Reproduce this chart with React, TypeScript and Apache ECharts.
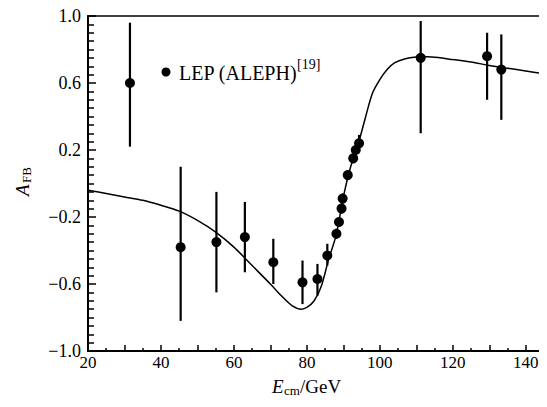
import React, { useEffect, useRef } from "react";
import * as echarts from "echarts";

const energy = [31.5, 45.4, 55.2, 63.0, 70.8, 78.8, 82.9, 85.6, 88.1, 88.8, 89.5, 89.8, 91.2, 92.7, 93.4, 94.3, 111.2, 129.4, 133.3];
const afb = [0.6, -0.38, -0.35, -0.32, -0.47, -0.59, -0.57, -0.43, -0.3, -0.23, -0.15, -0.09, 0.05, 0.15, 0.2, 0.24, 0.75, 0.76, 0.68];
const errLow = [0.22, -0.82, -0.65, -0.53, -0.6, -0.72, -0.67, -0.49, -0.33, -0.26, -0.18, -0.12, 0.02, 0.12, 0.17, 0.21, 0.3, 0.5, 0.38];
const errHigh = [0.96, 0.1, -0.05, -0.11, -0.33, -0.46, -0.48, -0.36, -0.27, -0.2, -0.12, -0.06, 0.08, 0.18, 0.23, 0.29, 0.97, 0.9, 0.89];

const curveX = [20, 25, 30, 35, 40, 45, 50, 55, 60, 65, 70, 73, 76, 78.5, 80, 82, 84, 86, 88, 90, 92, 94, 96, 98, 100, 102, 104, 107, 110, 113, 116, 120, 125, 130, 135, 140, 145];
const curveY = [-0.04, -0.06, -0.08, -0.1, -0.13, -0.165, -0.22, -0.29, -0.38, -0.49, -0.6, -0.67, -0.73, -0.75, -0.74, -0.7, -0.61, -0.45, -0.31, -0.08, 0.1, 0.23, 0.39, 0.54, 0.62, 0.68, 0.72, 0.745, 0.755, 0.757, 0.752, 0.74, 0.725, 0.705, 0.688, 0.672, 0.655];

const xTickLabels = [20, 40, 60, 80, 100, 120, 140];
const legendLabel = "LEP (ALEPH)";
const legendRef = "[19]";

const FONT = "Liberation Serif";

export default function App() {
  const ref = useRef<HTMLDivElement>(null);
  useEffect(() => {
    if (!ref.current) return;
    const chart = echarts.init(ref.current, undefined, { renderer: "svg" });
    const points = energy.map((x, i) => [x, afb[i]]);
    const bars = energy.map((x, i) => [x, errLow[i], errHigh[i]]);
    const curve = curveX.map((x, i) => [x, curveY[i]]);
    chart.setOption({
      animation: false,
      backgroundColor: "#fff",
      textStyle: { fontFamily: FONT },
      grid: {
        left: 88,
        top: 16,
        right: 3,
        bottom: 56,
        show: true,
        borderColor: "#000",
        borderWidth: 1.5,
      },
      xAxis: {
        type: "value",
        min: 20,
        max: 145,
        interval: 10,
        axisLine: { onZero: false, lineStyle: { color: "#000", width: 2 } },
        axisTick: { inside: true, length: 6, lineStyle: { color: "#000", width: 1.5 } },
        minorTick: { show: true, splitNumber: 2, length: 3, lineStyle: { color: "#000", width: 1.5 } },
        splitLine: { show: false },
        axisLabel: {
          color: "#000",
          fontFamily: FONT,
          fontSize: 17,
          margin: 3,
          formatter: (v: number) => (xTickLabels.includes(Math.round(v)) ? String(Math.round(v)) : ""),
        },
      },
      yAxis: {
        type: "value",
        min: -1,
        max: 1,
        interval: 0.4,
        axisLine: { onZero: false, lineStyle: { color: "#000", width: 2 } },
        axisTick: { inside: true, length: 8, lineStyle: { color: "#000", width: 1.5 } },
        minorTick: { show: true, splitNumber: 8, length: 6, lineStyle: { color: "#000", width: 1.5 } },
        splitLine: { show: false },
        axisLabel: {
          color: "#000",
          fontFamily: FONT,
          fontSize: 18,
          margin: 7,
          formatter: (v: number) => v.toFixed(1).replace("-", "\u2212"),
        },
      },
      series: [
        {
          type: "line",
          data: curve,
          smooth: 0.3,
          showSymbol: false,
          lineStyle: { color: "#000", width: 1.5 },
          z: 2,
        },
        {
          type: "custom",
          data: bars,
          renderItem: (params: any, api: any) => {
            const x = api.value(0);
            const lo = api.coord([x, api.value(1)]);
            const hi = api.coord([x, api.value(2)]);
            return {
              type: "line",
              shape: { x1: lo[0], y1: lo[1], x2: hi[0], y2: hi[1] },
              style: { stroke: "#000", lineWidth: 2.2 },
            };
          },
          z: 3,
        },
        {
          type: "scatter",
          data: points,
          symbol: "circle",
          symbolSize: 10,
          itemStyle: { color: "#000", opacity: 1 },
          z: 4,
        },
      ],
      graphic: [
        { type: "circle", shape: { cx: 166, cy: 72, r: 4.5 }, style: { fill: "#000" } },
        {
          type: "text",
          x: 179,
          y: 73,
          style: { text: legendLabel, fontFamily: FONT, fontSize: 20, fill: "#000", verticalAlign: "middle" },
        },
        {
          type: "text",
          x: 297,
          y: 64,
          style: { text: legendRef, fontFamily: FONT, fontSize: 14, fill: "#000", verticalAlign: "middle" },
        },
        {
          type: "group",
          x: 22,
          y: 184,
          rotation: Math.PI / 2,
          children: [
            {
              type: "text",
              x: -12,
              y: 0,
              style: { text: "A", fontFamily: FONT, fontStyle: "italic", fontSize: 19, fill: "#000", verticalAlign: "middle" },
            },
            {
              type: "text",
              x: 1,
              y: 4,
              style: { text: "FB", fontFamily: FONT, fontSize: 13, fill: "#000", verticalAlign: "middle" },
            },
          ],
        },
        {
          type: "text",
          x: 272,
          y: 386,
          style: { text: "E", fontFamily: FONT, fontStyle: "italic", fontSize: 19, fill: "#000", verticalAlign: "middle" },
        },
        {
          type: "text",
          x: 284,
          y: 390,
          style: { text: "cm", fontFamily: FONT, fontSize: 13, fill: "#000", verticalAlign: "middle" },
        },
        {
          type: "text",
          x: 300,
          y: 386,
          style: { text: "/GeV", fontFamily: FONT, fontSize: 19, fill: "#000", verticalAlign: "middle" },
        },
      ],
    });
    return () => chart.dispose();
  }, []);
  return <div ref={ref} style={{ width: 547, height: 407, margin: -8 }} />;
}
